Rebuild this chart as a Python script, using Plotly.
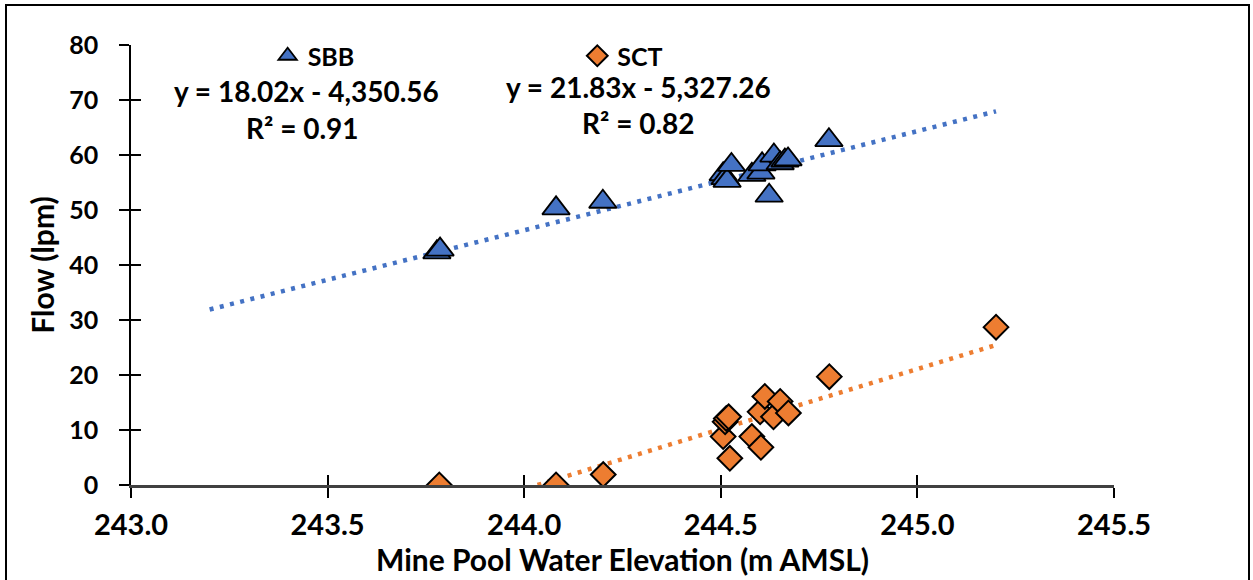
import numpy as np
import plotly.graph_objects as go

# ---- data ----
sbb_x = [243.778, 243.786, 244.081, 244.200, 244.506, 244.511, 244.516, 244.527,
         244.579, 244.602, 244.605, 244.623, 244.635, 244.651, 244.663, 244.671, 244.775]
sbb_y = [42.3, 42.8, 50.3, 51.5, 56.5, 55.8, 55.3, 58.2,
         56.4, 56.8, 58.3, 52.6, 59.9, 58.5, 59.0, 59.2, 62.7]

sct_x = [243.784, 244.081, 244.201, 244.506, 244.511, 244.514, 244.520, 244.523,
         244.579, 244.600, 244.602, 244.612, 244.634, 244.651, 244.672, 244.776, 245.200]
sct_y = [0.0, 0.0, 1.9, 8.8, 11.5, 12.1, 12.4, 4.85,
         8.8, 13.3, 6.85, 16.1, 12.4, 15.2, 13.1, 19.7, 28.7]

series_names = ["SBB", "SCT"]
slopes = [18.02, 21.83]
intercepts = [-4350.56, -5327.26]
r2_values = [0.91, 0.82]
trend_x_range = [243.2, 245.2]

x_ticks = [243.0, 243.5, 244.0, 244.5, 245.0, 245.5]
y_ticks = [0, 10, 20, 30, 40, 50, 60, 70, 80]

BLUE = "#4472C4"
ORANGE = "#ED7D31"
FONT = "Lato"

fig = go.Figure()

# trendlines (clipped at y >= 0 like the axis)
for name, m, b, col in zip(series_names, slopes, intercepts, [BLUE, ORANGE]):
    x0, x1 = trend_x_range
    if m * x0 + b < 0:
        x0 = -b / m
    tx = np.array([x0, x1])
    fig.add_trace(go.Scatter(
        x=tx, y=m * tx + b, mode="lines", showlegend=False, hoverinfo="skip",
        line=dict(color=col, width=4.5, dash="4px,6.5px")))

fig.add_trace(go.Scatter(
    x=sbb_x, y=sbb_y, mode="markers", name="SBB", legend="legend",
    marker=dict(symbol="triangle-up", size=24, color=BLUE,
                line=dict(color="black", width=1.8))))
fig.add_trace(go.Scatter(
    x=sct_x, y=sct_y, mode="markers", name="SCT", legend="legend2",
    marker=dict(symbol="diamond", size=19, color=ORANGE,
                line=dict(color="black", width=2))))

# invisible trace on overlay axes so the inner half of the cross ticks is drawn
fig.add_trace(go.Scatter(x=[x_ticks[0]], y=[y_ticks[0]], xaxis="x2", yaxis="y2",
                         mode="markers", marker=dict(opacity=0, size=1),
                         showlegend=False, hoverinfo="skip"))

def bold(size):
    return dict(family=FONT, size=size, color="black", weight="bold")

fig.update_layout(
    width=1253, height=580,
    margin=dict(l=131, r=139, t=45, b=95, autoexpand=False),
    paper_bgcolor="white", plot_bgcolor="white",
    font=dict(family=FONT, color="black"),
    xaxis=dict(range=[243.0, 245.5], tickvals=x_ticks,
               ticktext=[f"{v:.1f}" for v in x_ticks],
               showgrid=False, zeroline=False,
               showline=True, linecolor="#404040", linewidth=2.5,
               ticks="outside", ticklen=10, tickwidth=1.5, tickcolor="black",
               tickfont=bold(29), ticklabelstandoff=2,
               title=dict(text="Mine Pool Water Elevation (m AMSL)",
                          font=bold(30), standoff=8)),
    yaxis=dict(range=[0, 80], tickvals=y_ticks,
               showgrid=False, zeroline=False,
               showline=True, linecolor="black", linewidth=1.5,
               ticks="outside", ticklen=10, tickwidth=1.5, tickcolor="black",
               tickfont=bold(25), ticklabelstandoff=16,
               title=dict(text="Flow (lpm)", font=bold(30), standoff=6)),
    xaxis2=dict(range=[243.0, 245.5], tickvals=x_ticks, overlaying="x",
                side="bottom", showticklabels=False, showgrid=False,
                zeroline=False, showline=False, ticks="inside", ticklen=10,
                tickwidth=1.5, tickcolor="black"),
    yaxis2=dict(range=[0, 80], tickvals=y_ticks, overlaying="y", side="left",
                showticklabels=False, showgrid=False, zeroline=False,
                showline=False, ticks="inside", ticklen=10, tickwidth=1.5,
                tickcolor="black"),
    legend=dict(x=0.139, y=0.975, xanchor="left", yanchor="middle",
                bgcolor="rgba(0,0,0,0)", itemwidth=30, font=bold(25)),
    legend2=dict(x=0.454, y=0.975, xanchor="left", yanchor="middle",
                 bgcolor="rgba(0,0,0,0)", itemwidth=30, font=bold(25)),
    showlegend=True,
)

# trendline equation annotations
eq_pos = [(306, 91, 302, 128), (638, 87, 638, 123)]
for (ex, ey, rx, ry), m, b, r2 in zip(eq_pos, slopes, intercepts, r2_values):
    sign = "-" if b < 0 else "+"
    eq = f"y = {m:.2f}x {sign} {abs(b):,.2f}"
    for txt, px, py in [(eq, ex, ey), (f"R² = {r2:.2f}", rx, ry)]:
        fig.add_annotation(
            x=(px - 131) / 983, y=(485 - py) / 440, xref="paper", yref="paper",
            text=txt, showarrow=False, xanchor="center", yanchor="middle",
            font=bold(28), borderpad=0)

# outer frame of the chart
fig.add_shape(type="rect", xref="paper", yref="paper",
              x0=(6 - 131) / 983, x1=(1249 - 131) / 983,
              y0=(485 - 590) / 440, y1=(485 - 5) / 440,
              line=dict(color="black", width=2), fillcolor="rgba(0,0,0,0)",
              layer="below")

fig.write_html("out.html")
